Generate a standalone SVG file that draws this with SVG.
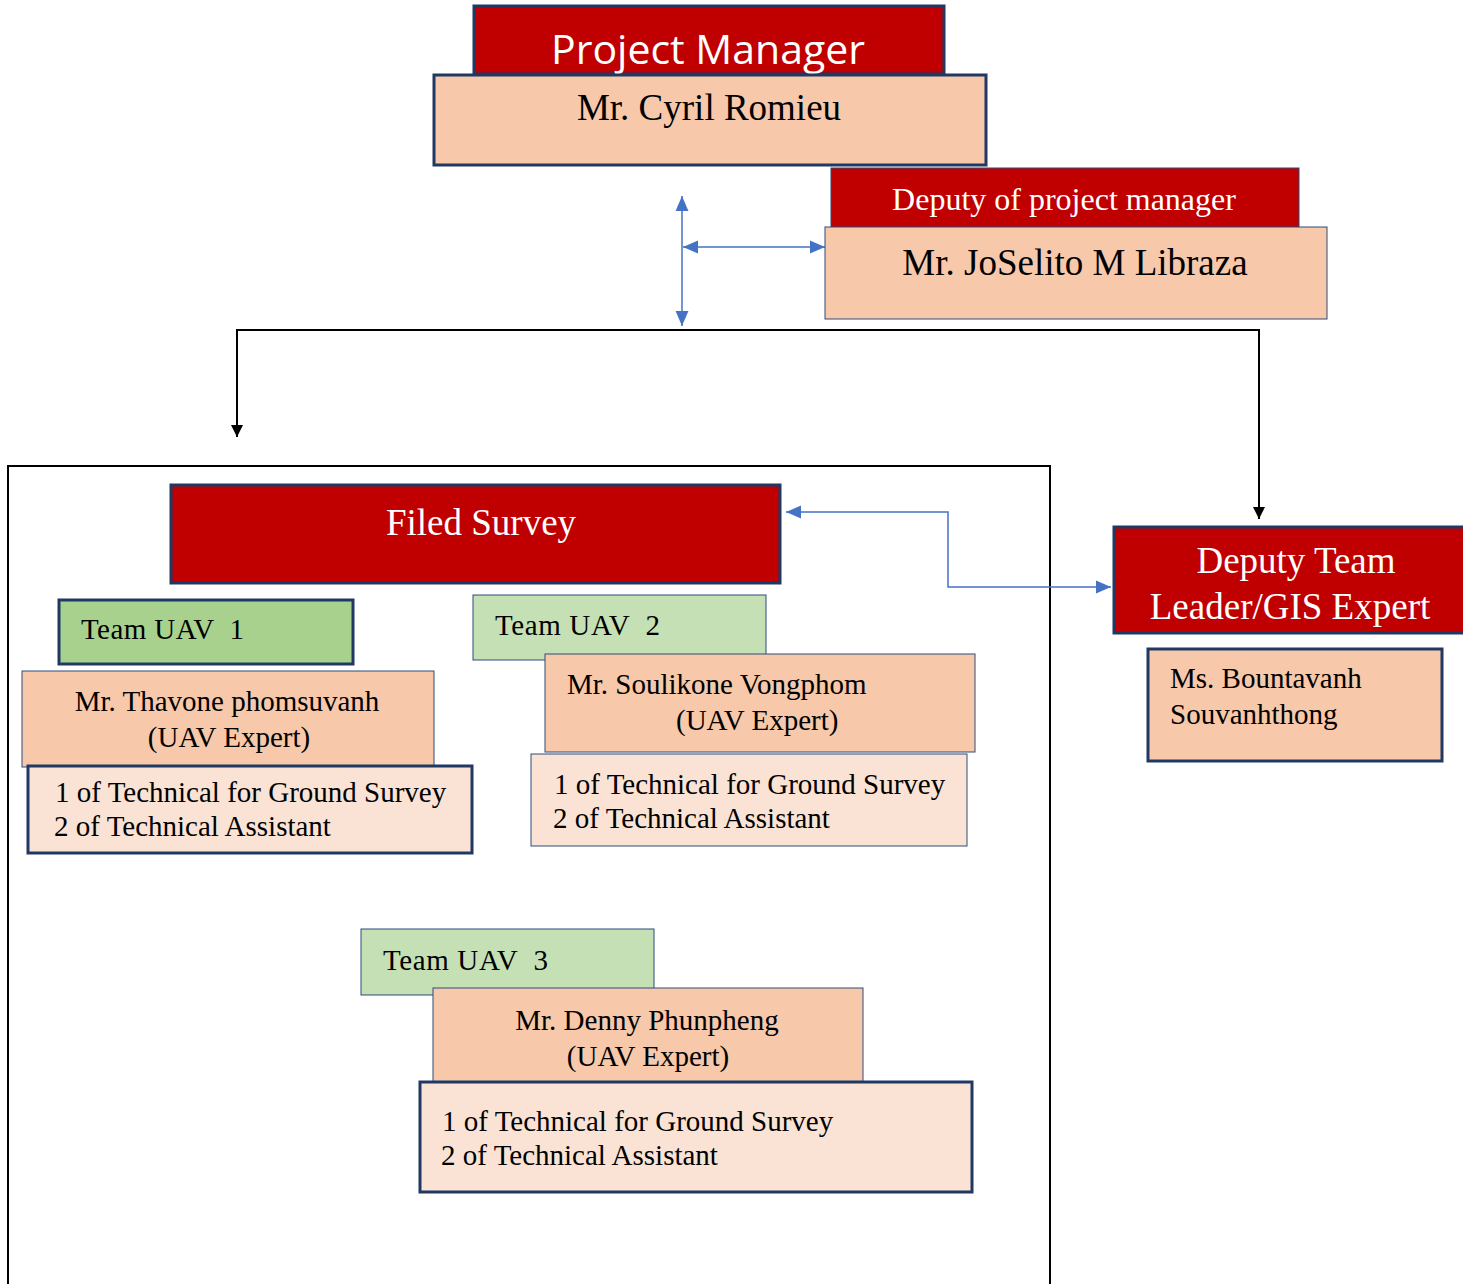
<svg xmlns="http://www.w3.org/2000/svg" width="1463" height="1284" viewBox="0 0 1463 1284">
  <defs>
    <marker id="blueHead" viewBox="0 0 14 12" refX="14" refY="6" markerWidth="15" markerHeight="14" markerUnits="userSpaceOnUse" orient="auto-start-reverse">
      <path d="M0,0 L14,6 L0,12 Z" fill="#4472C4"/>
    </marker>
    <marker id="blackHead" viewBox="0 0 12 12" refX="12" refY="6" markerWidth="14" markerHeight="12" markerUnits="userSpaceOnUse" orient="auto">
      <path d="M0,0 L12,6 L0,12 Z" fill="#000"/>
    </marker>
  </defs>
  <style>
    .red { fill: #C00000; stroke: #1F3864; stroke-width: 3; }
    .redThin { fill: #C00000; stroke: #2F4A7A; stroke-width: 1; }
    .peach { fill: #F7C8AA; stroke: #1F3864; stroke-width: 3; }
    .peachThin { fill: #F7C8AA; stroke: #2F4A7A; stroke-width: 1; }
    .pale { fill: #FAE3D5; stroke: #1F3864; stroke-width: 3; }
    .paleThin { fill: #FAE3D5; stroke: #2F4A7A; stroke-width: 1; }
    .green { fill: #A9D18E; stroke: #1F3864; stroke-width: 3; }
    .greenThin { fill: #C5E0B4; stroke: #2F4A7A; stroke-width: 1; }
    .serif { font-family: "Liberation Serif", "Times New Roman", serif; fill: #000; white-space: pre; }
    .white { fill: #fff; }
    .mid { text-anchor: middle; }
    .blue { fill: none; stroke: #4472C4; stroke-width: 1.5; }
    .black { fill: none; stroke: #000; stroke-width: 2; }
  </style>

  <!-- outer frame for the field survey section -->
  <rect x="8" y="466" width="1042" height="830" fill="none" stroke="#000" stroke-width="2"/>

  <g id="connectors">
    <line class="blue" x1="682" y1="196" x2="682" y2="326" marker-start="url(#blueHead)" marker-end="url(#blueHead)"/>
    <line class="blue" x1="683" y1="247" x2="825" y2="247" marker-start="url(#blueHead)" marker-end="url(#blueHead)"/>
    <polyline class="black" points="237,437 237,330 1259,330 1259,519" marker-end="url(#blackHead)"/>
    <line class="black" x1="237" y1="331" x2="237" y2="437" marker-end="url(#blackHead)"/>
    <polyline class="blue" points="786,512 948,512 948,587 1111,587" marker-start="url(#blueHead)" marker-end="url(#blueHead)"/>
  </g>

  <g id="project-manager">
    <rect class="red" x="474" y="6" width="470" height="68"/>
    <text x="708" y="64" class="mid white" font-family="'Open Sans', 'Liberation Sans', sans-serif" font-size="41">Project Manager</text>
  </g>
  <g id="pm-name">
    <rect class="peach" x="434" y="75" width="552" height="90"/>
    <text x="709" y="120" class="serif mid" font-size="37">Mr. Cyril Romieu</text>
  </g>

  <g id="deputy-pm">
    <rect class="redThin" x="831" y="168" width="468" height="60"/>
    <text x="1064" y="210" class="serif mid white" font-size="32">Deputy of project manager</text>
  </g>
  <g id="deputy-pm-name">
    <rect class="peachThin" x="825" y="227" width="502" height="92"/>
    <text x="1075" y="275" class="serif mid" font-size="37">Mr. JoSelito M Libraza</text>
  </g>

  <g id="field-survey">
    <rect class="red" x="171" y="485" width="609" height="98"/>
    <text x="481" y="535" class="serif mid white" font-size="37">Filed Survey</text>
  </g>

  <g id="deputy-team-leader">
    <rect class="red" x="1114" y="527" width="355" height="106"/>
    <text class="serif mid white" font-size="37"><tspan x="1296" y="573">Deputy Team</tspan><tspan x="1290" y="619">Leader/GIS Expert</tspan></text>
  </g>
  <g id="gis-expert-name">
    <rect class="peach" x="1148" y="649" width="294" height="112"/>
    <text class="serif" font-size="29"><tspan x="1170" y="688">Ms. Bountavanh</tspan><tspan x="1170" y="724">Souvanhthong</tspan></text>
  </g>

  <!-- team 1 -->
  <g id="team-uav-1">
    <rect class="green" x="59" y="600" width="294" height="64"/>
    <text x="81" y="639" class="serif" font-size="29" textLength="163">Team UAV  1</text>
  </g>
  <g id="team-1-expert">
    <rect class="peachThin" x="22" y="671" width="412" height="96"/>
    <text class="serif mid" font-size="29"><tspan x="227" y="711">Mr. Thavone phomsuvanh</tspan><tspan x="229" y="747">(UAV Expert)</tspan></text>
  </g>
  <g id="team-1-staff">
    <rect class="pale" x="28" y="766" width="444" height="87"/>
    <text class="serif" font-size="29"><tspan x="55" y="802">1 of Technical for Ground Survey</tspan><tspan x="54" y="836">2 of Technical Assistant</tspan></text>
  </g>

  <!-- team 2 -->
  <g id="team-uav-2">
    <rect class="greenThin" x="473" y="595" width="293" height="65"/>
    <text x="495" y="635" class="serif" font-size="29" textLength="165">Team UAV  2</text>
  </g>
  <g id="team-2-expert">
    <rect class="peachThin" x="545" y="654" width="430" height="98"/>
    <text class="serif" font-size="29"><tspan x="567" y="694">Mr. Soulikone Vongphom</tspan><tspan x="676" y="730">(UAV Expert)</tspan></text>
  </g>
  <g id="team-2-staff">
    <rect class="paleThin" x="531" y="754" width="436" height="92"/>
    <text class="serif" font-size="29"><tspan x="554" y="794">1 of Technical for Ground Survey</tspan><tspan x="553" y="828">2 of Technical Assistant</tspan></text>
  </g>

  <!-- team 3 -->
  <g id="team-uav-3">
    <rect class="greenThin" x="361" y="929" width="293" height="66"/>
    <text x="383" y="970" class="serif" font-size="29" textLength="165">Team UAV  3</text>
  </g>
  <g id="team-3-expert">
    <rect class="peachThin" x="433" y="988" width="430" height="94"/>
    <text class="serif mid" font-size="29"><tspan x="647" y="1030">Mr. Denny Phunpheng</tspan><tspan x="648" y="1066">(UAV Expert)</tspan></text>
  </g>
  <g id="team-3-staff">
    <rect class="pale" x="420" y="1082" width="552" height="110"/>
    <text class="serif" font-size="29"><tspan x="442" y="1131">1 of Technical for Ground Survey</tspan><tspan x="441" y="1165">2 of Technical Assistant</tspan></text>
  </g>
</svg>
